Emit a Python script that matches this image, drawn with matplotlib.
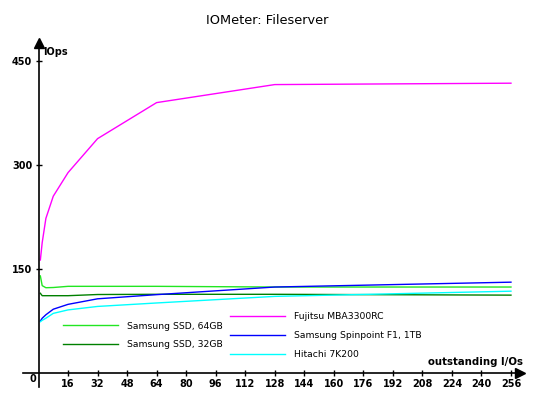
import matplotlib
matplotlib.use("Agg")
import matplotlib.pyplot as plt

# outstanding I/Os (x) and IOps per drive
queue_depth = [1, 2, 4, 8, 16, 32, 64, 128, 256]
ssd_64 = [140, 126, 123, 123.3, 125, 125, 125, 124, 124]
ssd_32 = [115, 111.5, 111.5, 111.5, 111.5, 113.2, 113.5, 113.5, 112.3]
fujitsu = [163, 188, 223, 255, 289, 338, 390, 416, 418]
spinpoint = [75, 79, 84, 92, 99, 107, 113, 124, 131]
hitachi = [74, 76, 79, 86, 91, 96, 101, 110.5, 118]

series_left = [("Samsung SSD, 64GB", ssd_64, "#22e622"),
               ("Samsung SSD, 32GB", ssd_32, "#008000")]
series_right = [("Fujitsu MBA3300RC", fujitsu, "#ff00ff"),
                ("Samsung Spinpoint F1, 1TB", spinpoint, "#0000ff"),
                ("Hitachi 7K200", hitachi, "#00ffff")]

x_ticks = list(range(16, 257, 16))
y_ticks = [150, 300, 450]

fig = plt.figure(figsize=(5.4, 4.0), dpi=100)
ax = fig.add_axes([23 / 540, 1 - 387 / 400, 502 / 540, 347 / 400])
ax.set_xlim(-8.4, 263.6)
ax.set_ylim(-20.2, 480.3)

lines_left = []
for name, vals, col in series_left:
    ln, = ax.plot(queue_depth, vals, color=col, lw=1.0, label=name)
    lines_left.append(ln)
lines_right = []
for name, vals, col in series_right:
    ln, = ax.plot(queue_depth, vals, color=col, lw=1.0, label=name)
    lines_right.append(ln)

# axes through the origin with arrow heads
for side in ["top", "right"]:
    ax.spines[side].set_visible(False)
ax.spines["left"].set_position(("data", 0))
ax.spines["bottom"].set_position(("data", 0))
ax.spines["left"].set_bounds(-20.2, 476)
ax.spines["bottom"].set_bounds(-8.4, 260.8)
ax.spines["left"].set_linewidth(1.2)
ax.spines["bottom"].set_linewidth(1.2)
ax.plot([0], [476], marker="^", color="black", markersize=7, clip_on=False)
ax.plot([260.8], [0], marker=">", color="black", markersize=7, clip_on=False)

ax.set_xticks(x_ticks)
ax.set_yticks(y_ticks)
ax.tick_params(direction="inout", length=5, width=1, labelsize=7, pad=2)
for lab in ax.get_xticklabels() + ax.get_yticklabels():
    lab.set_fontweight("bold")

ax.text(-3, -8, "0", fontsize=7, fontweight="bold", ha="center", va="center")
ax.text(2.4, 463.4, "IOps", fontsize=7, fontweight="bold", ha="left", va="center")
ax.text(262.5, 15.4, "outstanding I/Os", fontsize=7.3, fontweight="bold",
        ha="right", va="center")

fig.text(266.7 / 540, 1 - 20 / 400, "IOMeter: Fileserver", fontsize=9.3,
         ha="center", va="center")

leg_kw = dict(bbox_transform=fig.transFigure, frameon=False, fontsize=6.7,
              handlelength=5.9, handletextpad=0.95, labelspacing=1.05,
              borderpad=0, borderaxespad=0, loc="center left")
leg1 = ax.legend(handles=lines_left,
                 bbox_to_anchor=(63 / 540, 1 - 335.5 / 400), **leg_kw)
ax.add_artist(leg1)
ax.legend(handles=lines_right,
          bbox_to_anchor=(230 / 540, 1 - 335.5 / 400), **leg_kw)

fig.savefig("out.png", dpi=100)
